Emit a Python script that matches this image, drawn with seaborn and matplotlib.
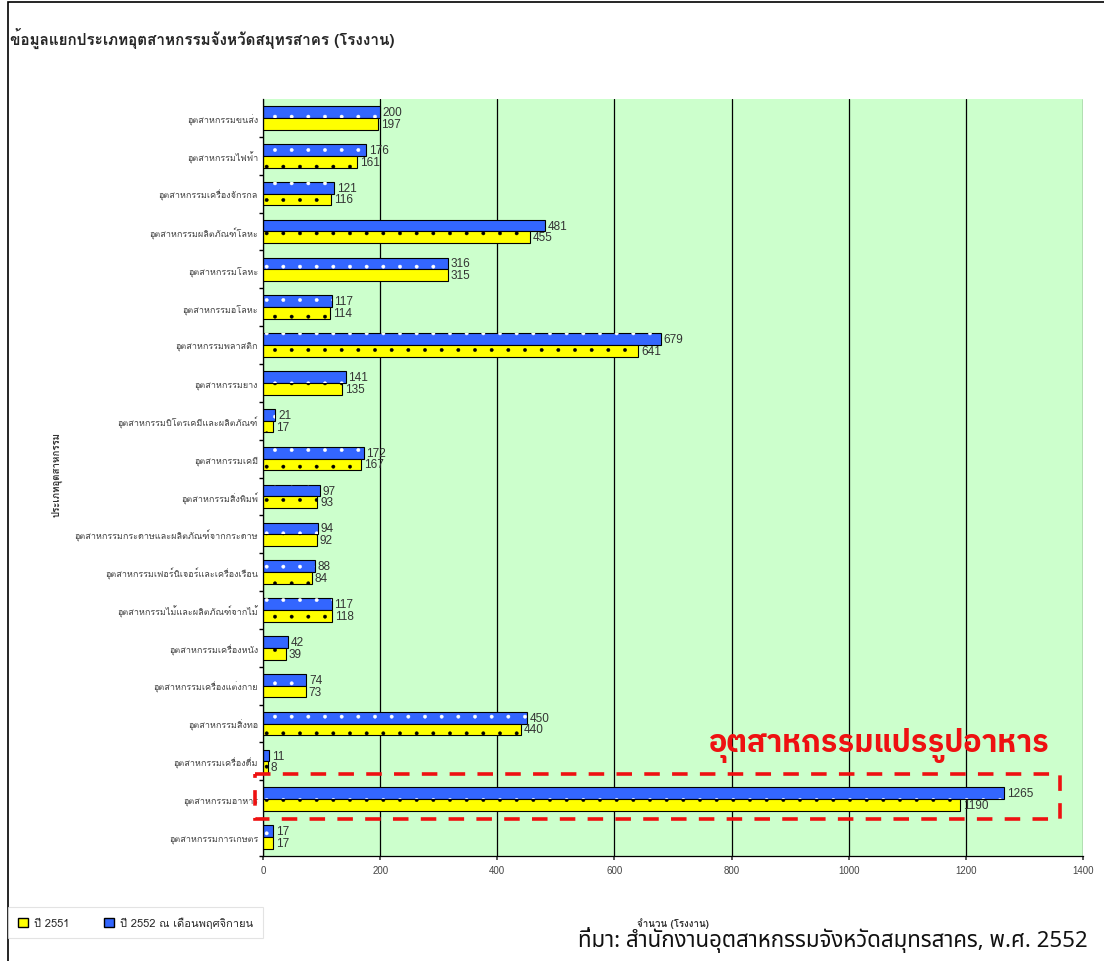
import pandas as pd
import matplotlib
matplotlib.use("Agg")
import matplotlib.pyplot as plt
import seaborn as sns
from matplotlib.patches import Rectangle, Patch

industries = [
    "อุตสาหกรรมขนส่ง",
    "อุตสาหกรรมไฟฟ้า",
    "อุตสาหกรรมเครื่องจักรกล",
    "อุตสาหกรรมผลิตภัณฑ์โลหะ",
    "อุตสาหกรรมโลหะ",
    "อุตสาหกรรมอโลหะ",
    "อุตสาหกรรมพลาสติก",
    "อุตสาหกรรมยาง",
    "อุตสาหกรรมปิโตรเคมีและผลิตภัณฑ์",
    "อุตสาหกรรมเคมี",
    "อุตสาหกรรมสิ่งพิมพ์",
    "อุตสาหกรรมกระดาษและผลิตภัณฑ์จากกระดาษ",
    "อุตสาหกรรมเฟอร์นิเจอร์และเครื่องเรือน",
    "อุตสาหกรรมไม้และผลิตภัณฑ์จากไม้",
    "อุตสาหกรรมเครื่องหนัง",
    "อุตสาหกรรมเครื่องแต่งกาย",
    "อุตสาหกรรมสิ่งทอ",
    "อุตสาหกรรมเครื่องดื่ม",
    "อุตสาหกรรมอาหาร",
    "อุตสาหกรรมการเกษตร",
]
y2552 = [200, 176, 121, 481, 316, 117, 679, 141, 21, 172, 97, 94, 88, 117, 42, 74, 450, 11, 1265, 17]
y2551 = [197, 161, 116, 455, 315, 114, 641, 135, 17, 167, 93, 92, 84, 118, 39, 73, 440, 8, 1190, 17]
lbl_2551 = "ปี 2551"
lbl_2552 = "ปี 2552 ณ เดือนพฤศจิกายน"
x_ticks = [0, 200, 400, 600, 800, 1000, 1200, 1400]
highlight = "อุตสาหกรรมอาหาร"

sns.set_theme(style="white")
plt.rcParams["font.family"] = ["Loma", "DejaVu Sans"]
plt.rcParams["hatch.linewidth"] = 0.3

blue = "#3366FF"
yellow = "#FFFF00"

df = pd.DataFrame({
    "industry": industries * 2,
    "year": [lbl_2552] * len(industries) + [lbl_2551] * len(industries),
    "count": y2552 + y2551,
})

fig = plt.figure(figsize=(11.04, 9.62), dpi=100)
ax = fig.add_axes([263 / 1104, 1 - 857 / 962, 820 / 1104, 757 / 962])
ax.set_facecolor("#CCFFCC")

sns.barplot(data=df, y="industry", x="count", hue="year", hue_order=[lbl_2552, lbl_2551],
            palette=[blue, yellow], orient="h", width=0.62, saturation=1,
            edgecolor="black", linewidth=0.8, legend=False, ax=ax)

# dotted fill: white dots on the blue bars, black dots on the yellow ones
blue_bars, yellow_bars = ax.containers[0], ax.containers[1]
for bar in yellow_bars:
    bar.set_hatch(".")
for bar in blue_bars:
    ax.add_patch(Rectangle(bar.get_xy(), bar.get_width(), bar.get_height(), fill=False,
                           edgecolor="white", linewidth=0, hatch=".", zorder=bar.get_zorder()))

for cont in (blue_bars, yellow_bars):
    ax.bar_label(cont, padding=2, fontsize=8.5, color="#333333",
                 family=["Liberation Sans", "DejaVu Sans"])

ax.set_xlim(0, 1400)
ax.set_ylim(len(industries) - 0.5, -0.5)
ax.set_xticks(x_ticks)
ax.xaxis.grid(True, color="black", linewidth=0.9)
ax.set_axisbelow(True)
for s in ["top", "right"]:
    ax.spines[s].set_visible(False)
for s in ["left", "bottom"]:
    ax.spines[s].set_color("black")
    ax.spines[s].set_linewidth(0.9)

ax.tick_params(axis="x", labelsize=7, colors="#444444", length=3, direction="out", bottom=True)
ax.tick_params(axis="y", labelsize=6.5, colors="#444444", length=0)
for t in ax.get_xticklabels():
    t.set_family(["Liberation Sans", "DejaVu Sans"])
ax.set_yticks([i + 0.5 for i in range(len(industries))], minor=True)
ax.tick_params(axis="y", which="minor", length=3, left=True, direction="out", color="black")

ax.set_xlabel("จำนวน (โรงงาน)", fontsize=7, fontweight="bold", color="#333333")
ax.xaxis.set_label_coords(0.5, -(918 - 857) / 757)
ax.set_ylabel("ประเภทอุตสาหกรรม", fontsize=7, fontweight="bold", color="#333333")
ax.yaxis.set_label_coords(-0.245, 0.505)

hi = industries.index(highlight)
ax.add_patch(Rectangle((-14, hi - 0.66), 1374, 1.19, fill=False, edgecolor="#EE1111",
                       linewidth=2.6, linestyle=(0, (4.3, 3.4)), clip_on=False, zorder=5))
ax.text(1344, hi - 1.45, "อุตสาหกรรมแปรรูปอาหาร", color="#EE1111", fontsize=22,
        fontweight="bold", ha="right", va="center",
        family=["IBM Plex Sans Thai", "DejaVu Sans"])

fig.text(10 / 1104, 1 - 38 / 962, "ข้อมูลแยกประเภทอุตสาหกรรมจังหวัดสมุทรสาคร (โรงงาน)",
         fontsize=11, fontweight="bold", ha="left", va="center")
fig.text(1088 / 1104, 1 - 940 / 962, "ที่มา: สำนักงานอุตสาหกรรมจังหวัดสมุทรสาคร, พ.ศ. 2552",
         fontsize=16, ha="right", va="center", color="#111111",
         family=["Noto Sans Thai", "DejaVu Sans"])

handles = [Patch(facecolor=yellow, edgecolor="black", hatch=".", label=lbl_2551),
           Patch(facecolor=blue, edgecolor="black", label=lbl_2552)]
leg = fig.legend(handles=handles, loc="center left", bbox_to_anchor=(8 / 1104, 1 - 923.5 / 962),
                 ncol=2, fontsize=8, frameon=True, fancybox=False, edgecolor="#DDDDDD",
                 handlelength=0.9, handleheight=0.9, columnspacing=3.2, borderpad=0.9,
                 borderaxespad=0, handletextpad=0.5)
leg.get_frame().set_linewidth(0.8)

fig.add_artist(Rectangle((8 / 1104, -0.05), 1.2, 1.05 - 3 / 962, transform=fig.transFigure,
                         fill=False, edgecolor="black", linewidth=1.2))

fig.savefig("out.png", dpi=100)
